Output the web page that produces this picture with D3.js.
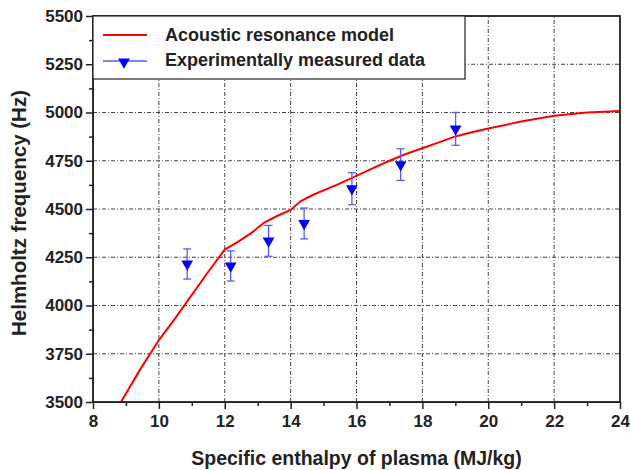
<!DOCTYPE html>
<html>
<head>
<meta charset="utf-8">
<script src="https://cdn.jsdelivr.net/npm/d3@7"></script>
<style>
  body { margin: 0; background: #fff; }
  text { font-family: 'Liberation Sans', Arial, sans-serif; font-weight: bold; fill: #222; }
</style>
</head>
<body>
<div id="chart"></div>
<script>
// model curve (enthalpy MJ/kg, frequency Hz)
const modelX = [8.85, 9.4, 10, 10.5, 11, 11.5, 12, 12.4, 12.8, 13.2, 13.6, 14.0, 14.3, 14.7, 15.4, 16, 16.5, 17, 17.5, 18, 18.5, 19, 19.5, 20, 21, 22, 23, 24];
const modelY = [3500, 3660, 3821, 3935, 4055, 4175, 4290, 4330, 4375, 4430, 4465, 4495, 4540, 4575, 4625, 4672, 4712, 4750, 4785, 4815, 4845, 4876, 4898, 4917, 4953, 4983, 5000, 5008];

// measured points
const measX = [10.86, 12.18, 13.33, 14.41, 15.86, 17.34, 19.01];
const measY = [4215, 4205, 4335, 4425, 4605, 4730, 4915];
const measErr = [78, 78, 80, 80, 83, 82, 85];

const xTicks = [8, 10, 12, 14, 16, 18, 20, 22, 24];
const yTicks = [3500, 3750, 4000, 4250, 4500, 4750, 5000, 5250, 5500];
const legendLabels = ['Acoustic resonance model', 'Experimentally measured data'];

const width = 630;
const height = 470;
const margin = { top: 16, right: 10, bottom: 68, left: 93 };

const svg = d3.select('#chart')
  .append('svg')
  .attr('width', width)
  .attr('height', height);

const x = d3.scaleLinear().domain([8, 24]).range([margin.left, width - margin.right]);
const y = d3.scaleLinear().domain([3500, 5500]).range([height - margin.bottom, margin.top]);

// grid
const grid = svg.append('g')
  .attr('stroke', '#444')
  .attr('stroke-width', 1)
  .attr('stroke-dasharray', '4,2,1,2');
grid.selectAll('.vgrid')
  .data(xTicks.slice(1, -1))
  .enter().append('line')
  .attr('x1', d => x(d)).attr('x2', d => x(d))
  .attr('y1', y(3500)).attr('y2', y(5500));
grid.selectAll('.hgrid')
  .data(yTicks.slice(1, -1))
  .enter().append('line')
  .attr('x1', x(8)).attr('x2', x(24))
  .attr('y1', d => y(d)).attr('y2', d => y(d));

// axes
const xAxis = svg.append('g')
  .attr('transform', `translate(0, ${y(3500)})`)
  .call(d3.axisBottom(x).tickValues(xTicks).tickSize(7).tickPadding(6).tickFormat(d3.format('d')));
svg.append('g')
  .attr('transform', `translate(0, ${y(3500)})`)
  .call(d3.axisBottom(x).tickValues(d3.range(9, 24, 2)).tickSize(4).tickFormat(''))
  .select('.domain').remove();
const yAxis = svg.append('g')
  .attr('transform', `translate(${x(8)}, 0)`)
  .call(d3.axisLeft(y).tickValues(yTicks).tickSize(7).tickPadding(3).tickFormat(d3.format('d')));
svg.append('g')
  .attr('transform', `translate(${x(8)}, 0)`)
  .call(d3.axisLeft(y).tickValues(d3.range(3625, 5500, 250)).tickSize(4).tickFormat(''))
  .select('.domain').remove();

svg.selectAll('.tick line').attr('stroke', '#222').attr('stroke-width', 1.5);
svg.selectAll('.domain').attr('stroke', '#222');
xAxis.selectAll('text').attr('font-size', 17).style('font-weight', 'bold').style('fill', '#222');
yAxis.selectAll('text').attr('font-size', 17).style('font-weight', 'bold').style('fill', '#222');

// model line
const line = d3.line().x(d => x(d[0])).y(d => y(d[1]));
svg.append('clipPath').attr('id', 'clip')
  .append('rect')
  .attr('x', x(8)).attr('y', y(5500))
  .attr('width', x(24) - x(8)).attr('height', y(3500) - y(5500));
svg.append('path')
  .datum(d3.zip(modelX, modelY))
  .attr('clip-path', 'url(#clip)')
  .attr('fill', 'none')
  .attr('stroke', '#ff0000')
  .attr('stroke-width', 2)
  .attr('d', line);

// error bars
const meas = measX.map((d, i) => ({ x: d, y: measY[i], e: measErr[i] }));
const eb = svg.append('g')
  .attr('stroke', '#5a5aff')
  .attr('stroke-width', 1.3);
meas.forEach(d => {
  eb.append('line')
    .attr('x1', x(d.x)).attr('x2', x(d.x))
    .attr('y1', y(d.y - d.e)).attr('y2', y(d.y + d.e));
  eb.append('line')
    .attr('x1', x(d.x) - 4).attr('x2', x(d.x) + 4)
    .attr('y1', y(d.y + d.e)).attr('y2', y(d.y + d.e));
  eb.append('line')
    .attr('x1', x(d.x) - 4).attr('x2', x(d.x) + 4)
    .attr('y1', y(d.y - d.e)).attr('y2', y(d.y - d.e));
});

const tri = d3.symbol().type(d3.symbolTriangle).size(60);
svg.selectAll('.pt')
  .data(meas)
  .enter().append('path')
  .attr('d', tri)
  .attr('transform', d => `translate(${x(d.x)}, ${y(d.y)}) rotate(180)`)
  .attr('fill', '#0000ff');

// frame
svg.append('rect')
  .attr('x', x(8)).attr('y', y(5500))
  .attr('width', x(24) - x(8)).attr('height', y(3500) - y(5500))
  .attr('fill', 'none')
  .attr('stroke', '#222')
  .attr('stroke-width', 1.8);

// legend
const lg = svg.append('g');
lg.append('rect')
  .attr('x', x(8)).attr('y', y(5500))
  .attr('width', 372).attr('height', 63)
  .attr('fill', '#fff')
  .attr('stroke', '#222')
  .attr('stroke-width', 1.2);
lg.append('line')
  .attr('x1', 103).attr('x2', 147).attr('y1', 35).attr('y2', 35)
  .attr('stroke', '#ff0000').attr('stroke-width', 2);
lg.append('line')
  .attr('x1', 103).attr('x2', 147).attr('y1', 61).attr('y2', 61)
  .attr('stroke', '#5a5aff').attr('stroke-width', 1.3);
lg.append('path')
  .attr('d', tri)
  .attr('transform', 'translate(124, 62) rotate(180)')
  .attr('fill', '#0000ff');
lg.selectAll('.lt')
  .data(legendLabels)
  .enter().append('text')
  .attr('x', 165)
  .attr('y', (d, i) => 41 + i * 25)
  .attr('font-size', 18)
  .text(d => d);

// axis titles
svg.append('text')
  .attr('x', (x(8) + x(24)) / 2)
  .attr('y', 465)
  .attr('text-anchor', 'middle')
  .attr('font-size', 19.5)
  .text('Specific enthalpy of plasma (MJ/kg)');
svg.append('text')
  .attr('transform', `translate(26, ${(y(3500) + y(5500)) / 2 + 4}) rotate(-90)`)
  .attr('text-anchor', 'middle')
  .attr('font-size', 20.5)
  .text('Helmholtz frequency (Hz)');
</script>
</body>
</html>
